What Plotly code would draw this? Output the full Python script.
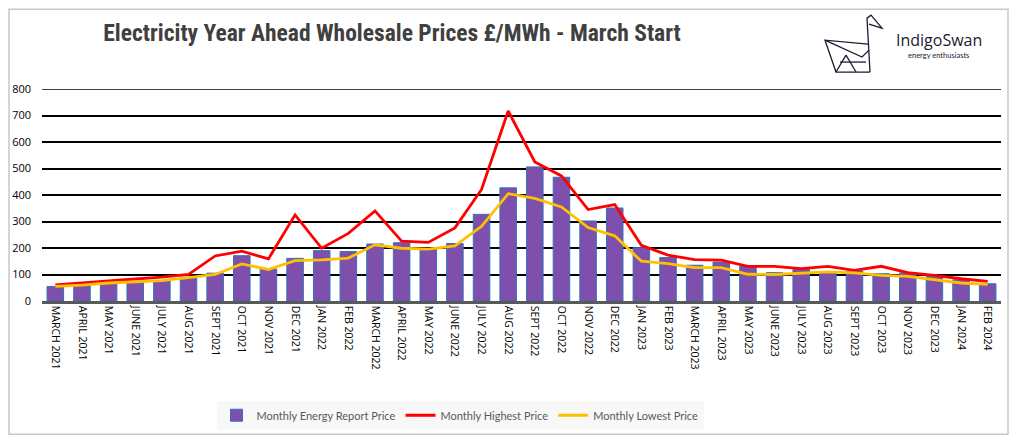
import plotly.graph_objects as go

months = ["MARCH 2021", "APRIL 2021", "MAY 2021", "JUNE 2021", "JULY 2021", "AUG 2021",
          "SEPT 2021", "OCT 2021", "NOV 2021", "DEC 2021", "JAN 2022", "FEB 2022",
          "MARCH 2022", "APRIL 2022", "MAY 2022", "JUNE 2022", "JULY 2022", "AUG 2022",
          "SEPT 2022", "OCT 2022", "NOV 2022", "DEC 2022", "JAN 2023", "FEB 2023",
          "MARCH 2023", "APRIL 2023", "MAY 2023", "JUNE 2023", "JULY 2023", "AUG 2023",
          "SEPT 2023", "OCT 2023", "NOV 2023", "DEC 2023", "JAN 2024", "FEB 2024"]

report_price = [55, 59, 67, 71, 77, 90, 105, 171, 121, 161, 190, 187,
                215, 220, 197, 217, 327, 427, 506, 467, 302, 351, 201, 164,
                135, 147, 131, 107, 119, 107, 113, 103, 106, 93, 80, 65]

highest_price = [61, 69, 77, 83, 90, 100, 170, 188, 159, 325, 199, 255,
                 340, 226, 221, 276, 421, 717, 525, 472, 345, 364, 210, 173,
                 156, 154, 131, 131, 122, 131, 116, 131, 107, 97, 84, 74]

lowest_price = [55, 60, 68, 72, 77, 88, 100, 140, 119, 152, 155, 162,
                212, 199, 196, 208, 282, 405, 387, 355, 277, 246, 150, 141,
                126, 126, 101, 100, 106, 110, 106, 97, 93, 81, 68, 63]

y_ticks = [0, 100, 200, 300, 400, 500, 600, 700, 800]

# page has an 8px body margin; figure is sized/offset to compensate
OFF = 8
W, H = 1018 - OFF, 438 - OFF
L, R, T = 42 - OFF, 17, 89 - OFF
PW = W - L - R
B = H - (301.5 - OFF)
PH = H - T - B


def px(x):
    return (x - OFF - L) / PW


def py(y):
    return (H - B - (y - OFF)) / PH


fig = go.Figure()
fig.add_trace(go.Bar(
    x=months, y=report_price, name="Monthly Energy Report Price",
    marker=dict(color="#7F4FAD", line=dict(color="#2E75B6", width=1)),
))
fig.add_trace(go.Scatter(
    x=months, y=highest_price, name="Monthly Highest Price", mode="lines",
    line=dict(color="#FF0000", width=2.8),
))
fig.add_trace(go.Scatter(
    x=months, y=lowest_price, name="Monthly Lowest Price", mode="lines",
    line=dict(color="#FFC000", width=2.8),
))

INK = "#1B1B33"
# swan logo outline (decoration), coordinates in reference pixels
swan_lines = [
    [(870, 72), (867, 18), (871, 15), (882, 28), (869, 24)],       # neck & head
    [(868, 44), (825, 40), (836, 72), (870, 72)],                  # body outline
    [(825, 40), (862, 57), (869, 50)],                             # wing top
    [(836, 72), (846, 55)],                                        # fold
    [(846, 55), (856, 72)],
    [(840, 62), (866, 62)],
]
shapes = []
for pts in swan_lines:
    path = "M " + " L ".join(f"{px(a)},{py(b)}" for a, b in pts)
    shapes.append(dict(type="path", xref="paper", yref="paper", path=path,
                       line=dict(color=INK, width=1.3)))
# top gridline at 800
shapes.append(dict(type="line", xref="paper", yref="y", x0=0, x1=1, y0=800, y1=800,
                   line=dict(color="#000000", width=1.5), layer="below"))
# outer border
shapes.append(dict(type="rect", xref="paper", yref="paper",
                   x0=px(9), y0=py(435), x1=px(1008), y1=py(9),
                   line=dict(color="#C8C8C8", width=1.5)))

fig.update_layout(
    width=W, height=H,
    margin=dict(l=L, r=R, t=T, b=B, autoexpand=False),
    paper_bgcolor="white", plot_bgcolor="white",
    bargap=0.38,
    showlegend=True,
    title=dict(text="<b>Electricity Year Ahead Wholesale Prices £/MWh - March Start</b>",
               x=(392 - OFF) / W, xanchor="center", y=1 - (33 - OFF) / H, yanchor="middle",
               font=dict(family="Liberation Sans Narrow, Arial Narrow, Roboto Condensed, Lato, sans-serif",
                         size=23.5, color="#404040")),
    legend=dict(orientation="h", x=px(460), xanchor="center", y=py(416), yanchor="middle",
                bgcolor="#F8F8F8", font=dict(family="Lato, Open Sans, sans-serif", size=11, color="#595959"),
                itemwidth=30, traceorder="normal"),
    xaxis=dict(type="category", tickangle=90, showgrid=False, showline=True, automargin=False,
               linecolor="#595959", linewidth=2.5, ticks="",
               tickfont=dict(family="Open Sans, DejaVu Sans, sans-serif", size=10.5, color="#000000"),
               range=[-0.5, len(months) - 0.5]),
    yaxis=dict(range=[0, 800], tickvals=y_ticks, showgrid=True, gridcolor="#000000", automargin=False,
               gridwidth=1.5, zeroline=False, showline=False, ticks="", ticklabelstandoff=10,
               tickfont=dict(family="Open Sans, DejaVu Sans, sans-serif", size=11, color="#000000")),
    shapes=shapes,
    annotations=[
        dict(text="IndigoSwan", xref="paper", yref="paper", x=px(939), y=py(40),
             xanchor="center", yanchor="middle", showarrow=False,
             font=dict(family="Open Sans, sans-serif", size=16, color=INK)),
        dict(text="energy enthusiasts", xref="paper", yref="paper", x=px(938), y=py(55),
             xanchor="center", yanchor="middle", showarrow=False,
             font=dict(family="Lato, Open Sans, sans-serif", size=7.5, color=INK)),
    ],
)

fig.write_html("out.html")
